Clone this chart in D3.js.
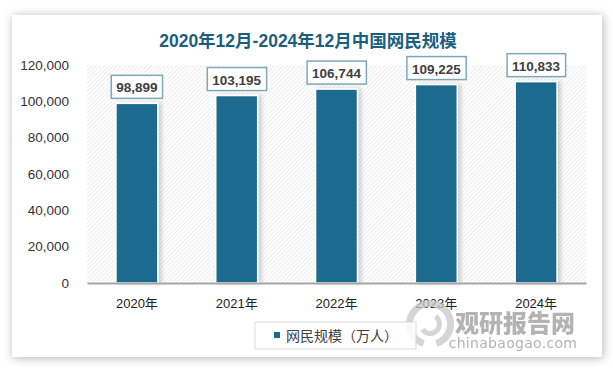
<!DOCTYPE html>
<html><head><meta charset="utf-8">
<script src="https://cdn.jsdelivr.net/npm/d3@7"></script>
<style>
html,body{margin:0;padding:0;background:#fff;}
svg{display:block;}
</style></head>
<body>
<svg id="c" width="613" height="370"></svg>
<script>
const categories = ["2020年","2021年","2022年","2023年","2024年"];
const values = [98899,103195,106744,109225,110833];
const yTicks = [0,20000,40000,60000,80000,100000,120000];
const title = "2020年12月-2024年12月中国网民规模";
const seriesName = "网民规模（万人）";

const svg = d3.select("#c");
const defs = svg.append("defs");
const f = defs.append("filter").attr("id","sh").attr("x","-10%").attr("y","-10%").attr("width","120%").attr("height","120%");
f.append("feDropShadow").attr("dx",1).attr("dy",1).attr("stdDeviation",5).attr("flood-color","#000").attr("flood-opacity",0.3);
const pat = defs.append("pattern").attr("id","hatch").attr("patternUnits","userSpaceOnUse").attr("width",3).attr("height",3).attr("patternTransform","rotate(45)");
pat.append("rect").attr("width",3).attr("height",3).attr("fill","#ffffff");
pat.append("line").attr("x1",0).attr("y1",0).attr("x2",0).attr("y2",3).attr("stroke","#e0e0e0").attr("stroke-width",1.2);
const bs = defs.append("filter").attr("id","bsh").attr("x","-30%").attr("y","-10%").attr("width","160%").attr("height","120%");
bs.append("feDropShadow").attr("dx",3).attr("dy",0).attr("stdDeviation",2).attr("flood-color","#000").attr("flood-opacity",0.18);

// card
svg.append("rect").attr("x",12).attr("y",15).attr("width",590).attr("height",342).attr("fill","#fff").attr("filter","url(#sh)");

const m = {l:87, r:586, t:65, b:283};
const x = d3.scaleBand().domain(categories).range([m.l, m.r]).paddingInner(0.58).paddingOuter(0.29);
const y = d3.scaleLinear().domain([0,120000]).range([m.b, m.t]);

svg.append("rect").attr("x",m.l).attr("y",m.t).attr("width",m.r-m.l).attr("height",m.b-m.t).attr("fill","url(#hatch)");

// title
svg.append("text").attr("x",308).attr("y",47).attr("text-anchor","middle")
  .attr("font-family","'Liberation Sans','Noto Sans CJK SC',sans-serif").attr("font-weight","bold")
  .attr("font-size",17.5).attr("fill","#1a5f80").text(title);

// y axis
const ya = svg.append("g").attr("transform",`translate(${m.l},0)`)
  .call(d3.axisLeft(y).tickValues(yTicks).tickFormat(d3.format(",")).tickSize(0).tickPadding(18));
ya.select(".domain").remove();
ya.selectAll("text").attr("font-family","'Liberation Sans',sans-serif").attr("font-size",13.5).attr("fill","#333");

// bars
svg.append("g").selectAll("rect").data(values).join("rect")
  .attr("x",(d,i)=>x(categories[i])).attr("y",d=>y(d))
  .attr("width",x.bandwidth()).attr("height",d=>y(0)-y(d))
  .attr("fill","#1b6b8e").attr("stroke","#fff").attr("stroke-width",1.5).attr("filter","url(#bsh)");

// x axis
const xa = svg.append("g").attr("transform",`translate(0,${m.b})`)
  .call(d3.axisBottom(x).tickSize(0).tickPadding(16));
xa.select(".domain").attr("stroke","#a6a6a6").attr("stroke-width",2);
xa.selectAll("text").attr("font-family","'Liberation Sans','Noto Sans CJK SC',sans-serif").attr("font-size",13).attr("fill","#222");

// labels
const lg = svg.append("g").selectAll("g").data(values).join("g");
lg.each(function(d,i){
  const g = d3.select(this);
  const cx = x(categories[i]) + x.bandwidth()/2;
  const t = g.append("text").attr("x",cx).attr("y",y(d)-11).attr("text-anchor","middle")
    .attr("font-family","'Liberation Sans',sans-serif").attr("font-weight","bold").attr("font-size",13.5)
    .attr("fill","#404040").text(d3.format(",")(d));
  const bb = t.node().getBBox();
  g.insert("rect","text").attr("x",bb.x-5).attr("y",y(d)-28).attr("width",bb.width+10).attr("height",23)
    .attr("fill","#fff").attr("stroke","#7ea8ba").attr("stroke-width",1.5);
});

// watermark
const wm = svg.append("g").attr("opacity",0.75);
const lc = wm.append("g").attr("transform","translate(430,324)");
lc.append("path").attr("d",d3.arc()({innerRadius:17,outerRadius:24,startAngle:-0.4,endAngle:Math.PI*0.9})).attr("fill","#c8c8c8");
lc.append("path").attr("d",d3.arc()({innerRadius:17,outerRadius:24,startAngle:Math.PI*1.1,endAngle:Math.PI*1.9})).attr("fill","#c8c8c8");
lc.append("path").attr("d",d3.arc()({innerRadius:7,outerRadius:12,startAngle:Math.PI*0.2,endAngle:Math.PI*1.3})).attr("fill","#c8c8c8");
wm.append("text").attr("x",515).attr("y",332).attr("text-anchor","middle")
  .attr("font-family","'Noto Sans CJK SC',sans-serif").attr("font-weight","900").attr("font-size",24)
  .attr("fill","#9a9a9a").text("观研报告网");
wm.append("text").attr("x",513).attr("y",348).attr("text-anchor","middle")
  .attr("font-family","'DejaVu Sans',sans-serif").attr("font-size",14).attr("letter-spacing",0.3)
  .attr("fill","#9a9a9a").text("chinabaogao.com");

// legend
svg.append("rect").attr("x",255).attr("y",322).attr("width",161).attr("height",27)
  .attr("fill","#fff").attr("fill-opacity",0.85).attr("stroke","#d9d9d9").attr("stroke-width",1);
svg.append("rect").attr("x",274).attr("y",332).attr("width",6).attr("height",6).attr("fill","#1b6b8e");
svg.append("text").attr("x",286).attr("y",341)
  .attr("font-family","'Noto Sans CJK SC',sans-serif").attr("font-size",14).attr("fill","#404040").text(seriesName);
</script>
</body></html>
